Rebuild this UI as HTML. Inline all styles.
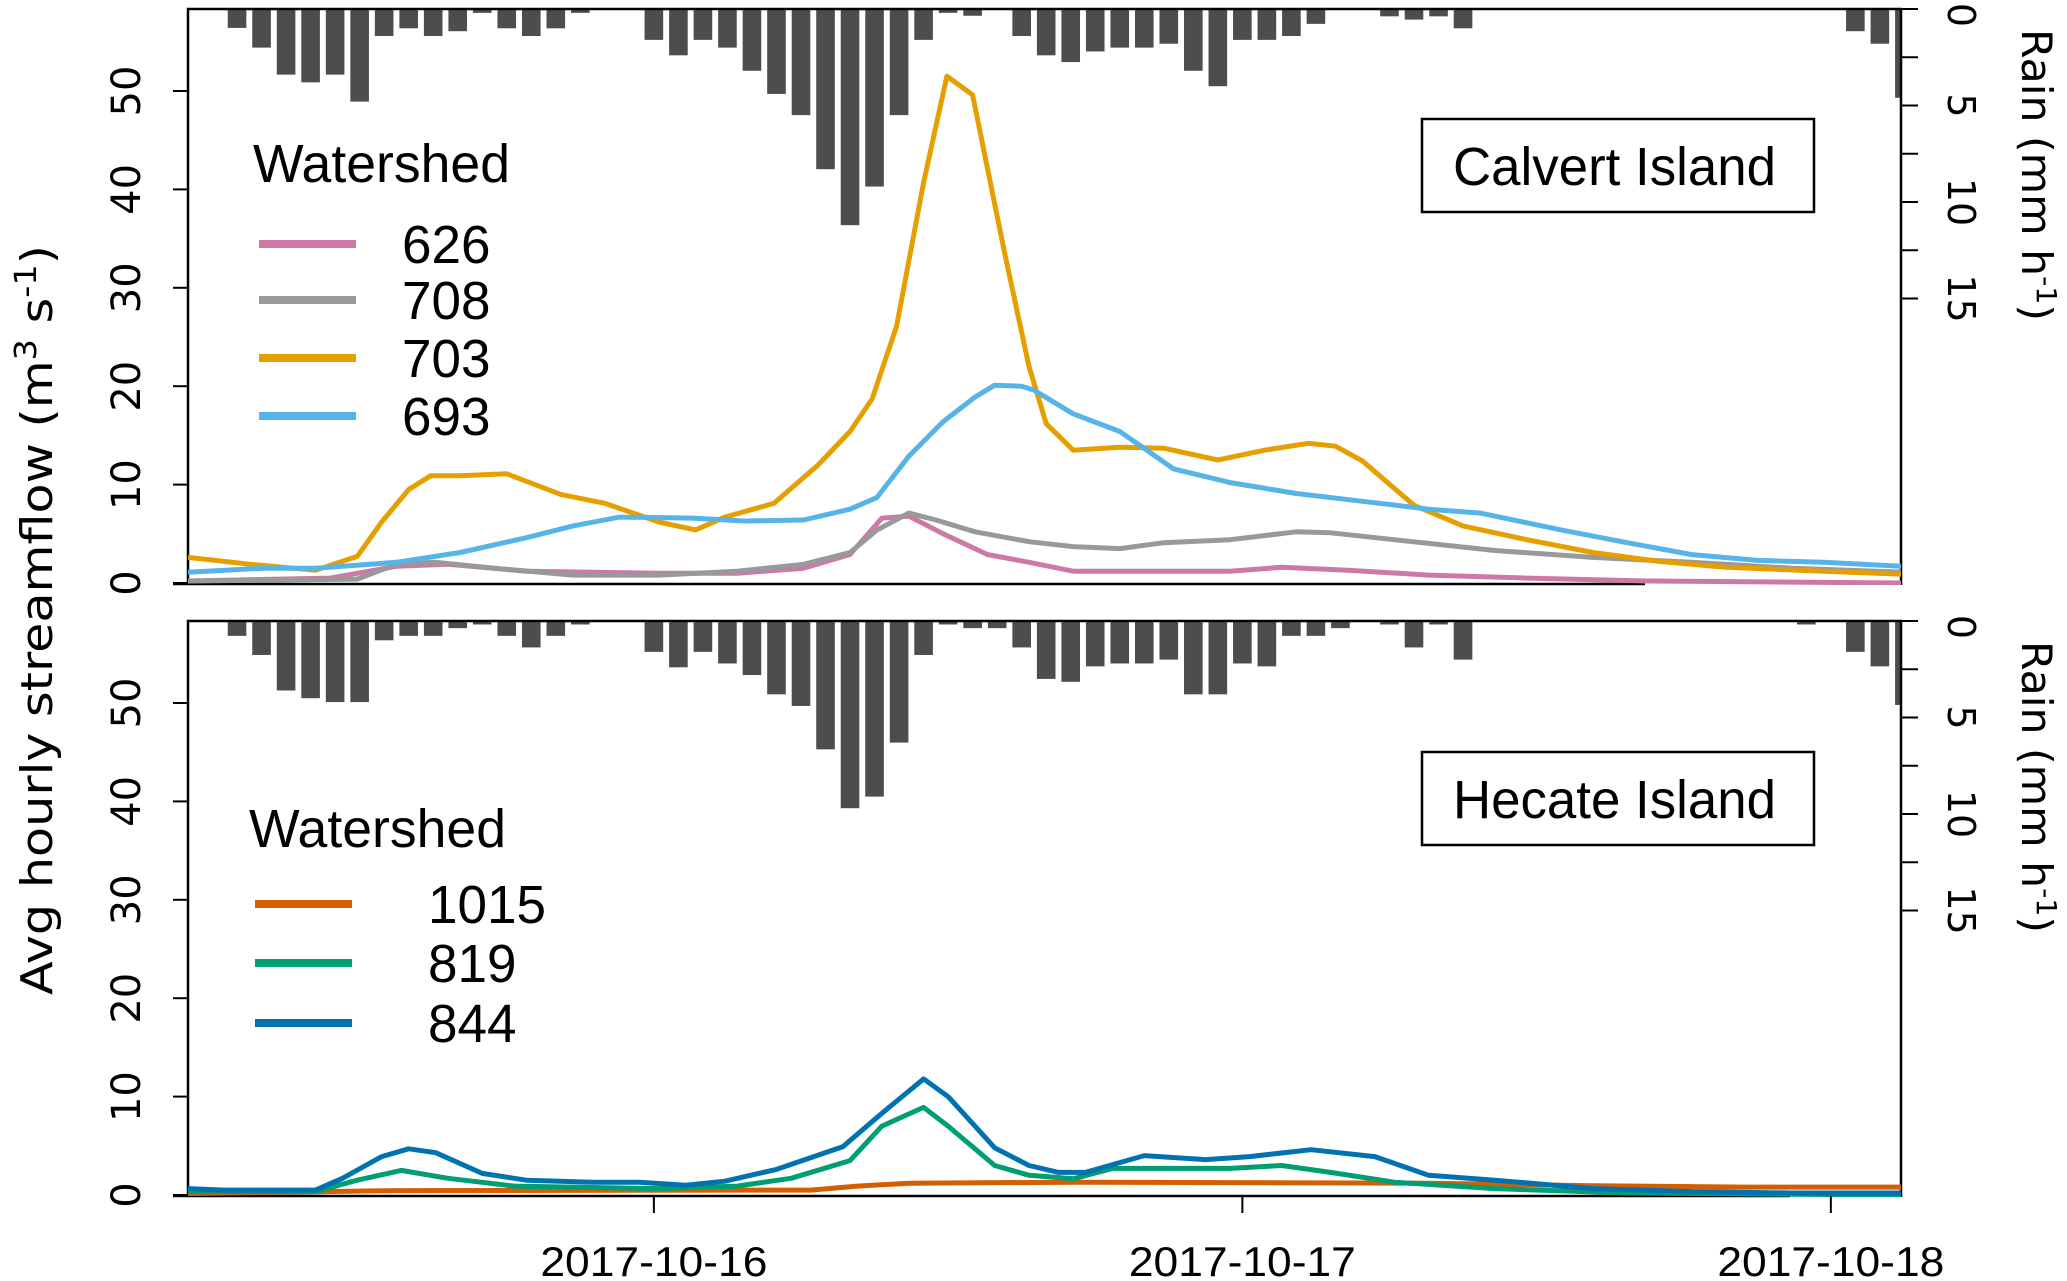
<!DOCTYPE html>
<html><head><meta charset="utf-8"><style>
html,body{margin:0;padding:0;background:#fff;}
svg{display:block;}
text{font-family:"Liberation Sans",sans-serif;fill:#000;}
.dv{font-family:"DejaVu Sans","Liberation Sans",sans-serif;}
</style></head><body>
<svg id="chart" width="2067" height="1281" viewBox="0 0 2067 1281" xmlns="http://www.w3.org/2000/svg">
<defs>
<clipPath id="clipTop"><rect x="188" y="9" width="1713" height="576"/></clipPath>
<clipPath id="clipBot"><rect x="188" y="621" width="1713" height="576"/></clipPath>
</defs>
<g id="gTop"></g>
<g id="gBot"></g>
<text class="dv" transform="translate(52,620) rotate(-90)" text-anchor="middle" font-size="44" textLength="750" lengthAdjust="spacingAndGlyphs">Avg hourly streamflow (m<tspan dy="-16" font-size="30">3</tspan><tspan dy="16"> s</tspan><tspan dy="-16" font-size="30">-1</tspan><tspan dy="16">)</tspan></text>
</svg>
<script>
// ---- data ----
const rainTop = [0.98,2.0,3.4,3.8,3.4,4.8,1.4,1.0,1.4,1.15,0.2,1.0,1.4,1.0,0.2,0,0,1.6,2.4,1.6,2.0,3.2,4.4,5.5,8.3,11.2,9.2,5.5,1.6,0.2,0.35,0,1.4,
 2.4,2.75,2.2,2.0,2.0,1.8,3.2,4.0,1.6,1.6,1.4,0.77,0,0,0.38,0.55,0.38,1.0,0,0,0,0,0,0,0,0,0,0,0,0,0,0,0,1.15,1.8,4.6];
const rainBot = [0.77,1.76,3.6,4.0,4.2,4.2,1.0,0.77,0.77,0.37,0.18,0.77,1.37,0.77,0.18,0,0,1.6,2.4,1.6,2.2,2.8,3.8,4.4,6.65,9.7,9.1,6.3,1.76,0.18,0.37,0.37,1.37,
 3.0,3.15,2.35,2.2,2.2,2.0,3.8,3.8,2.2,2.35,0.77,0.77,0.37,0,0.18,1.37,0.18,2.0,0,0,0,0,0,0,0,0,0,0,0,0,0,0.18,0,1.6,2.35,4.35];
const s703T=[0,2.55,5.2,6.9,7.9,9,9.9,11.1,13,15.2,17,19.2,20.7,21.9,23.9,25.7,27,27.9,28.9,30,30.95,32,33.3,34.3,35,36.1,38,39.8,42,43.9,45.7,46.8,47.9,50,52,54.6,57.3,60,62.7,66.7,69.9];
const s703V=[2.6,1.9,1.3,2.7,6.2,9.5,10.9,10.9,11.1,9.0,8.1,6.2,5.4,6.7,8.1,12.0,15.4,18.7,26.1,40.7,51.5,49.6,33.6,22,16.2,13.5,13.8,13.7,12.5,13.5,14.2,13.9,12.4,7.9,5.8,4.4,3.1,2.2,1.6,1.2,0.9];
const s693T=[0,3.1,5.2,8.5,11.1,13.8,15.7,17.6,20.6,22.7,25.1,27,28.1,29.4,30.8,32.1,32.9,34,34.5,36.1,38,40.2,42.5,45.2,47.9,50.6,52.7,56,58.7,61.3,64,66.7,69.9];
const s693V=[1.1,1.5,1.5,2.1,3.1,4.6,5.8,6.7,6.6,6.3,6.4,7.5,8.7,12.9,16.4,18.9,20.1,20,19.6,17.2,15.4,11.6,10.2,9.1,8.3,7.5,7.1,5.4,4.1,2.9,2.3,2.1,1.7];
const s708T=[0,6.9,8.5,10.1,12.5,15.7,19.2,22.4,25.1,27,28.1,29.4,30.5,32.1,34.3,36.1,38,39.8,42.5,45.2,46.6,49.2,53.3,57.3,61.3,65.4,69.9];
const s708V=[0.2,0.4,1.9,2.1,1.5,0.8,0.8,1.2,1.9,3.1,5.4,7.1,6.4,5.2,4.2,3.7,3.5,4.1,4.4,5.2,5.1,4.4,3.3,2.6,2.1,1.5,1.1];
const s626T=[0,5.8,8.5,10.6,13.8,19.2,22.4,25.1,27,28.3,29.4,30.8,32.6,34.3,36.1,42.5,44.6,47.3,50.6,54.6,59.5,69.9];
const s626V=[0.2,0.5,1.7,1.9,1.2,1.0,1.0,1.5,2.9,6.6,6.8,5.0,2.9,2.1,1.2,1.2,1.6,1.3,0.8,0.5,0.2,0.0];
const s844T=[0,1.5,5.2,6.3,7.9,9,10.1,12,13.8,16.5,18.4,20.3,21.9,24,26.7,28.3,30,31,32.9,34.3,35.5,36.6,39,41.5,43.3,45.8,48.4,50.6,53.3,57.3,61.3,65.4,69.9];
const s844V=[0.65,0.5,0.5,1.7,3.9,4.7,4.3,2.2,1.5,1.3,1.3,1.0,1.4,2.6,4.9,8.3,11.8,10.0,4.8,3.0,2.3,2.3,4.0,3.6,3.9,4.6,3.9,2.0,1.5,0.65,0.35,0.2,0.2];
const s819T=[0,5.2,6.9,8.7,10.6,13.3,19.2,22.4,24.6,27,28.3,30,31,32.9,34.3,36.1,37.7,42.5,44.6,46.6,49.2,53.3,58.7,69.9];
const s819V=[0.35,0.35,1.5,2.5,1.7,0.9,0.65,0.9,1.7,3.5,7.0,8.9,7.0,3.0,2.0,1.65,2.7,2.7,3.0,2.3,1.3,0.65,0.2,0];
const s1015T=[0,8.5,25.4,27.3,29.4,36.3,50.6,57.3,63.5,69.9];
const s1015V=[0.15,0.45,0.5,0.9,1.2,1.3,1.2,0.95,0.8,0.8];
const flowTicks=[0,10,20,30,40,50];
const rainTicks=[0,2.5,5,7.5,10,12.5,15];
const rainLabels=[0,5,10,15];
const dateTicks=[19,43,67];
const dateLabels=['2017-10-16','2017-10-17','2017-10-18'];

// ---- scales ----
const X = t => 188 + t*24.52;
const NS='http://www.w3.org/2000/svg';
function mk(tag, attrs, parent){const e=document.createElementNS(NS,tag);for(const k in attrs)e.setAttribute(k,attrs[k]);parent.appendChild(e);return e;}

function panel(g, y0, clipId, rain, series, legendTitleY, legendX, labelX, boxY, boxText, axisEnd){
  const yF = v => (y0+574) - v*9.84;
  const yR = r => y0 + r*19.3;
  const bg=mk('g',{'clip-path':'url(#'+clipId+')'},g);
  
  
  rain.forEach((r,k)=>{ if(r<=0) return;
    const b=mk('rect',{x:X(k+2)-9.3,y:y0,width:18.6,height:yR(r)-y0,fill:'#4d4d4d'},bg);
    
    
  });
  const fr=mk('path',{d:`M188,${y0+576} V${y0} H1901 V${y0+576}`,fill:'none',stroke:'#000','stroke-width':2.5},g);
  
  
  const xl=mk('line',{x1:173,x2:axisEnd,y1:y0+575,y2:y0+575,stroke:'#000','stroke-width':2.5},g);
  
  
  const lg=mk('g',{'clip-path':'url(#'+clipId+')'},g);
  series.forEach(s=>{
    const pts=s.t.map((t,i)=>X(t).toFixed(1)+','+yF(s.v[i]).toFixed(1)).join(' ');
    const p=mk('polyline',{points:pts,fill:'none',stroke:s.c,'stroke-width':5,'stroke-linejoin':'round'},lg);
    
    
  });
  flowTicks.forEach(v=>{
    const tk=mk('line',{x1:173,x2:188,y1:yF(v),y2:yF(v),stroke:'#000','stroke-width':2},g);
    
    
    const tx=mk('text',{class:'dv',transform:`translate(140,${yF(v)}) rotate(-90)`,'text-anchor':'middle','font-size':40},g);
    tx.textContent=v;
    
    
  });
  rainTicks.forEach(r=>{
    const tk=mk('line',{x1:1901,x2:1918,y1:yR(r),y2:yR(r),stroke:'#000','stroke-width':2},g);
    
    
  });
  rainLabels.forEach(r=>{
    const tx=mk('text',{class:'dv',transform:`translate(1948,${yR(r)+ (r===0?6:0)}) rotate(90)`,'text-anchor':'middle','font-size':38},g);
    tx.textContent=r;
    
    
  });
  const rt=mk('text',{class:'dv',transform:`translate(2022,${y0+166}) rotate(90)`,'text-anchor':'middle','font-size':42,textLength:292,lengthAdjust:'spacingAndGlyphs'},g);
  rt.innerHTML='Rain (mm h<tspan dy="-15" font-size="28">-1</tspan><tspan dy="15">)</tspan>';
  
  
  const wt=mk('text',{x:legendX-6,y:legendTitleY+19,'font-size':54,textLength:257,lengthAdjust:'spacingAndGlyphs'},g);
  wt.textContent='Watershed';
  
  
  series.forEach(s=>{
    const l=mk('line',{x1:legendX,x2:legendX+97,y1:s.ly,y2:s.ly,stroke:s.c,'stroke-width':8},g);
    
    
    const tx=mk('text',{x:labelX,y:s.ly+19,'font-size':54,textLength:s.n.length*29.5,lengthAdjust:'spacingAndGlyphs'},g);
    tx.textContent=s.n;
    
    
  });
  const bx=mk('rect',{x:1422,y:boxY,width:392,height:93,fill:'#fff',stroke:'#000','stroke-width':2.5},g);
  
  
  const bt=mk('text',{x:1453,y:boxY+66,'font-size':54,textLength:323,lengthAdjust:'spacingAndGlyphs'},g);
  bt.textContent=boxText;
  
  
  return yF;
}

panel(document.getElementById('gTop'),9,'clipTop',rainTop,[
  {n:'626',t:s626T,v:s626V,c:'#CC79A7',ly:244},
  {n:'708',t:s708T,v:s708V,c:'#999999',ly:300},
  {n:'703',t:s703T,v:s703V,c:'#E69F00',ly:358},
  {n:'693',t:s693T,v:s693V,c:'#56B4E9',ly:416}
],163,259,402,119,'Calvert Island',1645);

panel(document.getElementById('gBot'),621,'clipBot',rainBot,[
  {n:'1015',t:s1015T,v:s1015V,c:'#D55E00',ly:904},
  {n:'819',t:s819T,v:s819V,c:'#009E73',ly:963},
  {n:'844',t:s844T,v:s844V,c:'#0072B2',ly:1023}
],828,255,428,752,'Hecate Island',1790);

const svg=document.getElementById('chart');
dateTicks.forEach((t,i)=>{
  const tk=mk('line',{x1:X(t),x2:X(t),y1:1196,y2:1213,stroke:'#000','stroke-width':2},svg);
  
  
  const tx=mk('text',{x:X(t),y:1276,'text-anchor':'middle','font-size':42,textLength:227,lengthAdjust:'spacingAndGlyphs'},svg);
  tx.textContent=dateLabels[i];
  
  
});
</script>
</body></html>
